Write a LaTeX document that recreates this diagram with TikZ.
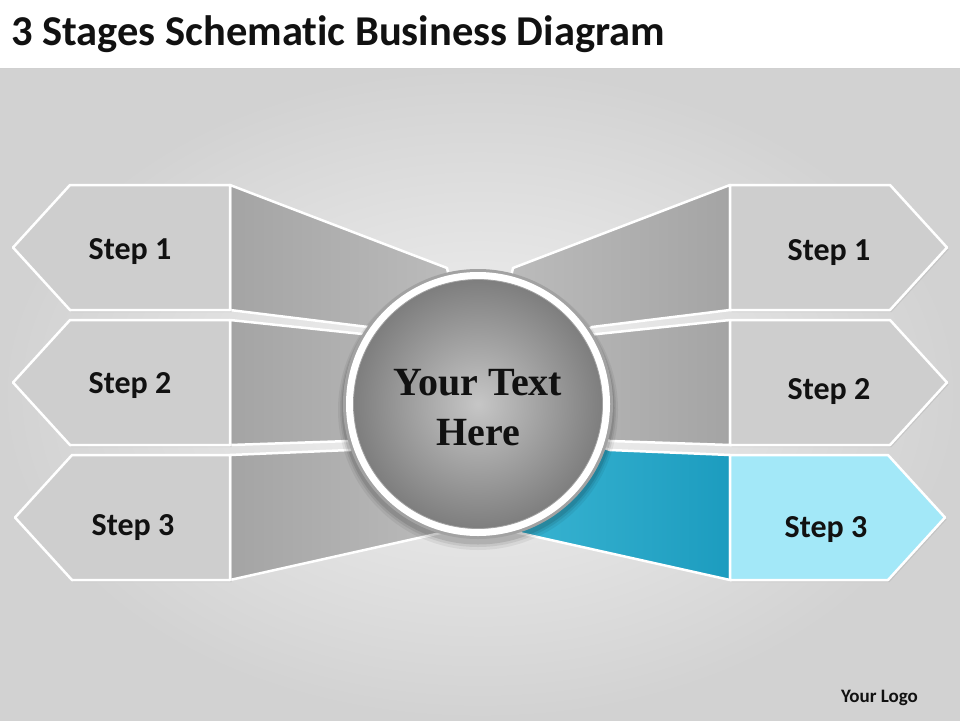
\documentclass[tikz,border=0pt]{standalone}
\usepackage{fontspec}
\setmainfont{Carlito}[Ligatures=NoCommon]
\newfontfamily\serifbold{Liberation Serif}
\usetikzlibrary{shadows}
\definecolor{bglight}{HTML}{F3F3F3}
\definecolor{bgdark}{HTML}{D2D2D2}
\definecolor{bandline}{HTML}{D0D0D0}
\definecolor{boxgray}{HTML}{CECECE}
\definecolor{wedgedark}{HTML}{A4A4A4}
\definecolor{wedgelight}{HTML}{BEBEBE}
\definecolor{boxblue}{HTML}{A3E8F8}
\definecolor{bluedark}{HTML}{1C9CBF}
\definecolor{bluelight}{HTML}{3DB7D4}
\definecolor{rimgray}{HTML}{A2A2A2}
\definecolor{discin}{HTML}{C6C6C6}
\definecolor{discout}{HTML}{7E7E7E}
\definecolor{textdark}{HTML}{111111}
\begin{document}
\begin{tikzpicture}[x=1pt,y=-1pt,
  wedgeL/.style={draw=white, line width=2.5pt, line join=round, left color=wedgedark, right color=wedgelight},
  wedgeR/.style={draw=white, line width=2.5pt, line join=round, left color=wedgelight, right color=wedgedark},
  wedgeB/.style={draw=white, line width=2.5pt, line join=round, left color=bluelight, right color=bluedark},
  stepbox/.style={draw=white, line width=2.5pt, line join=round, fill=boxgray,
     drop shadow={opacity=0.18, shadow xshift=1.5pt, shadow yshift=-2pt}},
  stepblue/.style={stepbox, fill=boxblue},
  steplabel/.style={font=\bfseries\fontsize{32}{32}\selectfont, text=textdark, inner sep=0pt, anchor=base},
  hubtext/.style={font=\serifbold\bfseries\fontsize{40}{40}\selectfont, text=textdark, inner sep=0pt, anchor=base}
]
\useasboundingbox (0,0) rectangle (960,720);
% background
\shade[inner color=bglight, outer color=bgdark] (0,68) rectangle (960,720);
\fill[white] (0,0) rectangle (960,68);
\draw[line width=1pt, bandline] (0,68.5) -- (960,68.5);
\node[font=\bfseries\fontsize{42.5}{42.5}\selectfont, text=textdark, anchor=base west, inner sep=0pt] (title) at (11,45) {3 Stages Schematic Business Diagram};

% left wedges
\path[wedgeL] (230,185) -- (447,268) -- (478,405) -- (368,327) -- (230,310) -- cycle;
\path[wedgeL] (230,320) -- (372,335) -- (478,405) -- (350,441) -- (230,445) -- cycle;
\path[wedgeL] (230,455) -- (350,450) -- (478,405) -- (445,532) -- (230,580) -- cycle;
% right wedges
\path[wedgeR] (730,185) -- (513,268) -- (482,405) -- (592,327) -- (730,310) -- cycle;
\path[wedgeR] (730,320) -- (588,335) -- (482,405) -- (610,441) -- (730,445) -- cycle;
\path[wedgeB] (730,455) -- (610,450) -- (482,405) -- (515,532) -- (730,580) -- cycle;

% left boxes
\path[stepbox] (230,185) -- (70,185) -- (13,247.5) -- (70,310) -- (230,310) -- cycle;
\path[stepbox] (230,320) -- (70,320) -- (13,382.5) -- (70,445) -- (230,445) -- cycle;
\path[stepbox] (230,455) -- (72,455) -- (15,517.5) -- (72,580) -- (230,580) -- cycle;
% right boxes
\path[stepbox] (730,185) -- (890,185) -- (947,247.5) -- (890,310) -- (730,310) -- cycle;
\path[stepbox] (730,320) -- (890,320) -- (947,382.5) -- (890,445) -- (730,445) -- cycle;
\path[stepblue] (730,455) -- (888,455) -- (945,517.5) -- (888,580) -- (730,580) -- cycle;

% hub circle
\fill[black, opacity=0.06] (478,410) circle[radius=140pt];
\fill[black, opacity=0.08] (478,409) circle[radius=138pt];
\fill[black, opacity=0.10] (478,408) circle[radius=136.5pt];
\fill[rimgray] (478,404) circle[radius=135pt];
\fill[white] (478,404) circle[radius=132pt];
\shade[inner color=discin, outer color=discout, draw=rimgray, line width=0.8pt] (478,404) circle[radius=124.5pt];
\node[circle, minimum size=270pt, inner sep=0pt] (hub) at (478,404) {};

% labels
\node[steplabel] (l1) at (130,259) {Step 1};
\node[steplabel] (l2) at (130,393) {Step 2};
\node[steplabel] (l3) at (133,535) {Step 3};
\node[steplabel] (r1) at (829,260) {Step 1};
\node[steplabel] (r2) at (829,399) {Step 2};
\node[steplabel] (r3) at (826,537) {Step 3};

\node[hubtext] (hub1) at (478,395) {Your Text};
\node[hubtext] (hub2) at (478,445) {Here};

\node[font=\bfseries\fontsize{19}{19}\selectfont, text=textdark, anchor=base east, inner sep=0pt] (logo) at (918,702) {Your Logo};
\end{tikzpicture}
\end{document}
